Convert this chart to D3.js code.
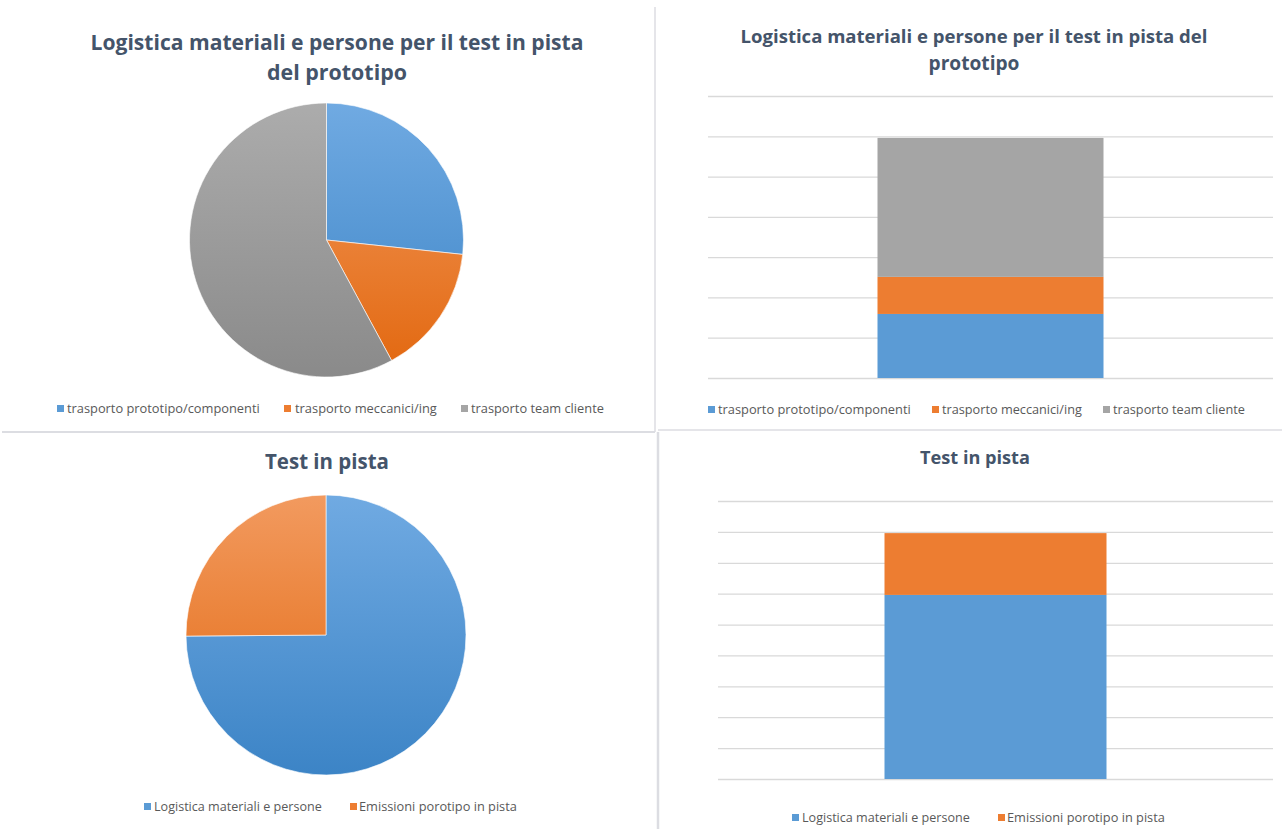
<!DOCTYPE html>
<html>
<head>
<meta charset="utf-8">
<script src="https://cdn.jsdelivr.net/npm/d3@7"></script>
<style>
  body { margin: 0; background: #fff; }
  text { font-family: "Open Sans", sans-serif; }
</style>
</head>
<body>
<script>
// data
var logisticaTitle = ["Logistica materiali e persone per il test in pista", "del prototipo"];
var logisticaTitleBar = ["Logistica materiali e persone per il test in pista del", "prototipo"];
var logisticaCategories = ["trasporto prototipo/componenti", "trasporto meccanici/ing", "trasporto team cliente"];
var logisticaValues = [1.59, 0.92, 3.45];
var logisticaTicks = [0, 1, 2, 3, 4, 5, 6, 7];

var testTitle = "Test in pista";
var testCategories = ["Logistica materiali e persone", "Emissioni porotipo in pista"];
var testValues = [5.96, 2.0];
var testTicks = [0, 1, 2, 3, 4, 5, 6, 7, 8, 9];

var colors = ["#5b9bd5", "#ed7d31", "#a5a5a5"];
var gradTop = ["#70aae2", "#f29a5f", "#acacac"];
var gradBottom = ["#3c84c6", "#e2670e", "#8a8a8a"];

var width = 1282, height = 829;

var svg = d3.select("body")
    .append("svg")
    .attr("width", width)
    .attr("height", height);

var defs = svg.append("defs");

// panel borders
var borders = [
    [655, 7, 655, 432, 1.5],
    [2, 432, 655, 432, 2],
    [658, 432, 658, 829, 2.5],
    [658, 430, 1282, 430, 1.5]
];
svg.selectAll(".border")
    .data(borders)
    .enter()
    .append("line")
    .attr("class", "border")
    .attr("x1", function(d) { return d[0]; })
    .attr("y1", function(d) { return d[1]; })
    .attr("x2", function(d) { return d[2]; })
    .attr("y2", function(d) { return d[3]; })
    .attr("stroke", "#dcdde2")
    .attr("stroke-width", function(d) { return d[4]; });

// text that is squeezed or stretched to fit a measured width
function fitText(g, str, x, y, w, size, weight, fill, anchor) {
    var t = g.append("text")
        .attr("x", x)
        .attr("y", y)
        .attr("text-anchor", anchor || "middle")
        .attr("font-size", size)
        .attr("font-weight", weight)
        .attr("fill", fill)
        .text(str);
    var len = t.node().getComputedTextLength();
    if (len > 0) t.attr("font-size", size * w / len);
    return t;
}

function title(lines, cx, ys, widths, size) {
    lines.forEach(function(l, i) {
        fitText(svg, l, cx, ys[i], widths[i], size, "bold", "#44546a");
    });
}

function legend(cats, items, y) {
    var g = svg.append("g");
    cats.forEach(function(c, i) {
        g.append("rect")
            .attr("x", items[i][0])
            .attr("y", y - 8)
            .attr("width", 7)
            .attr("height", 7)
            .attr("fill", colors[i]);
        fitText(g, c, items[i][1], y, items[i][2], 12.5, "normal", "#595959", "start");
    });
}

function pie(values, cx, cy, r, id) {
    values.forEach(function(v, i) {
        var gr = defs.append("linearGradient")
            .attr("id", id + i)
            .attr("gradientUnits", "userSpaceOnUse")
            .attr("x1", 0).attr("y1", -r)
            .attr("x2", 0).attr("y2", r);
        gr.append("stop").attr("offset", "0%").attr("stop-color", gradTop[i]);
        gr.append("stop").attr("offset", "100%").attr("stop-color", gradBottom[i]);
    });
    var arcs = d3.pie().sort(null)(values);
    var arc = d3.arc().innerRadius(0).outerRadius(r);
    svg.append("g")
        .attr("transform", "translate(" + cx + "," + cy + ")")
        .selectAll("path")
        .data(arcs)
        .enter()
        .append("path")
        .attr("d", arc)
        .attr("fill", function(d, i) { return "url(#" + id + i + ")"; })
        .attr("stroke", "#fff")
        .attr("stroke-width", 0.6);
}

function stackedBar(values, ticks, x0, x1, yTop, yBottom) {
    var y = d3.scaleLinear()
        .domain([0, d3.max(ticks)])
        .range([yBottom, yTop]);
    var x = d3.scaleBand()
        .domain(["a"])
        .range([x0, x1])
        .paddingInner(0.6)
        .paddingOuter(0.3);

    var axis = svg.append("g")
        .attr("transform", "translate(" + x0 + ",0)")
        .call(d3.axisLeft(y).tickValues(ticks).tickSize(-(x1 - x0)).tickFormat(""));
    axis.select(".domain").remove();
    axis.selectAll(".tick line").attr("stroke", "#d9d9d9").attr("stroke-width", 1.3);

    var acc = 0;
    var stacks = values.map(function(v) {
        var s = { lo: acc, hi: acc + v };
        acc += v;
        return s;
    });
    svg.append("g")
        .selectAll("rect")
        .data(stacks)
        .enter()
        .append("rect")
        .attr("x", x("a"))
        .attr("width", x.bandwidth())
        .attr("y", function(d) { return y(d.hi); })
        .attr("height", function(d) { return y(d.lo) - y(d.hi); })
        .attr("fill", function(d, i) { return colors[i]; });
}

// top left: pie
title(logisticaTitle, 337, [50, 80], [493, 140], 20);
pie(logisticaValues, 326.5, 240, 137, "pa");
legend(logisticaCategories, [[57, 67, 193], [284, 295, 142], [461, 471, 133]], 413);

// top right: stacked bar
title(logisticaTitleBar, 974, [43, 70], [467, 91], 18);
stackedBar(logisticaValues, logisticaTicks, 708, 1273, 96, 378);
legend(logisticaCategories, [[708, 718, 193], [932, 942, 140], [1103, 1113, 132]], 414);

// bottom left: pie
title([testTitle], 327, [469], [124], 20);
pie(testValues, 326, 635, 140, "pb");
legend(testCategories, [[144, 154, 168], [350, 359, 158]], 811);

// bottom right: stacked bar
title([testTitle], 975, [464], [110], 18);
stackedBar(testValues, testTicks, 718, 1273, 501, 779);
legend(testCategories, [[792, 802, 168], [998, 1007, 158]], 822);
</script>
</body>
</html>
